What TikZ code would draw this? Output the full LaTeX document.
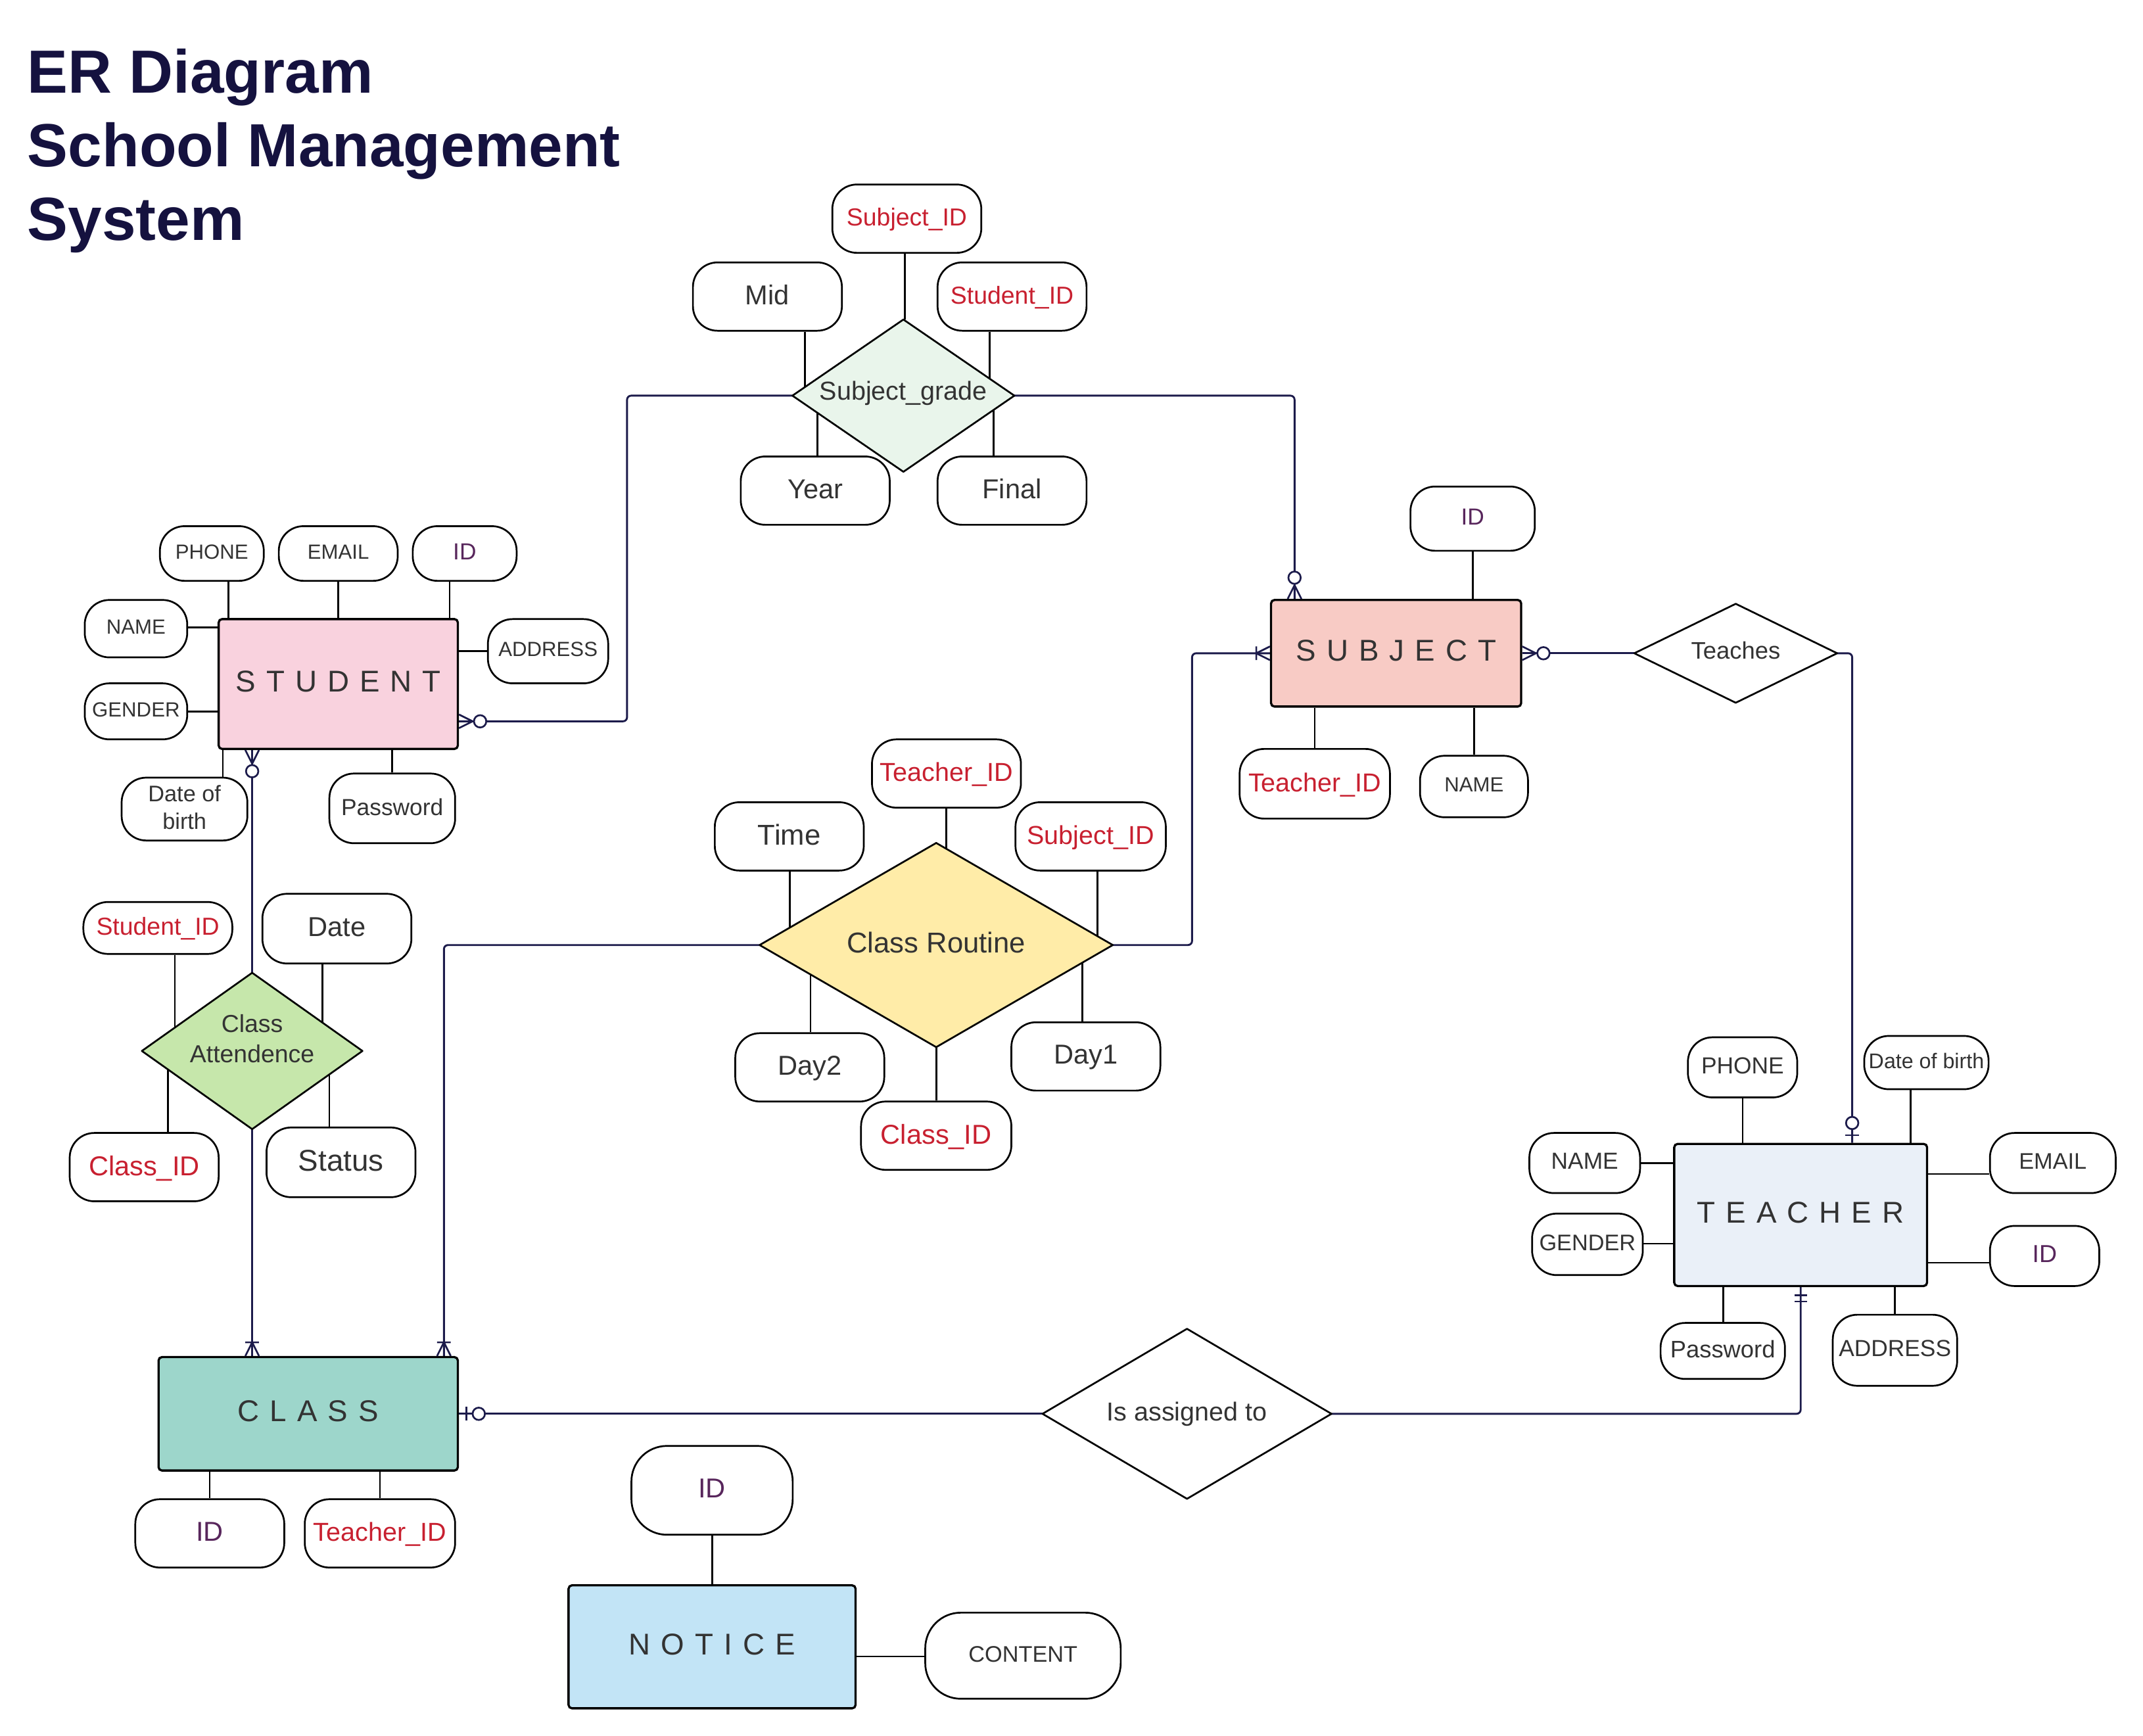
\documentclass[tikz,border=0pt]{standalone}
\usepackage{fontspec}
\setmainfont{Liberation Sans}
\newfontfamily\entfont[LetterSpace=35]{Liberation Sans}
\usetikzlibrary{calc}
\definecolor{txt}{RGB}{51,51,51}
\definecolor{keyred}{RGB}{200,32,48}
\definecolor{idpur}{RGB}{88,38,92}
\definecolor{navy}{RGB}{28,27,75}
\definecolor{titlec}{RGB}{21,18,63}
\definecolor{stufill}{RGB}{249,210,222}
\definecolor{subfill}{RGB}{248,203,197}
\definecolor{tchfill}{RGB}{234,240,248}
\definecolor{clsfill}{RGB}{157,214,203}
\definecolor{notfill}{RGB}{194,228,246}
\definecolor{sgfill}{RGB}{233,245,235}
\definecolor{crfill}{RGB}{255,236,168}
\definecolor{cafill}{RGB}{198,231,171}
\pgfdeclarelayer{paper}\pgfdeclarelayer{bg}\pgfsetlayers{paper,bg,main}
\newcommand\attrV[3]{\draw[al] ($(#1)+(#2,0)$) coordinate (tmpa) -- (tmpa |- #3);}
\newcommand\attrH[3]{\draw[al] ($(#1)+(0,#2)$) coordinate (tmpa) -- (tmpa -| #3);}
\tikzset{
 attr/.style={draw=black, line width=1.3pt, fill=white, rounded corners=18pt, inner sep=0pt, text=txt, align=center, text depth=0.25em},
 fs/.style 2 args={font=\fontsize{#1}{#2}\selectfont},
 sz/.style 2 args={minimum width=#1pt, minimum height=#2pt},
 keyt/.style={text=keyred},
 pid/.style={text=idpur},
 ent/.style={draw=black, line width=1.6pt, rounded corners=2.5pt, inner sep=0pt, text=txt, font=\entfont\fontsize{22}{26}\selectfont, text depth=4pt},
 dbox/.style={inner sep=0pt, text=txt, align=center, text depth=0.4em},
 dia/.style={draw=black, line width=1.3pt, line join=round},
 al/.style={draw=black, line width=1.3pt},
 rel/.style={draw=navy, line width=1.4pt, rounded corners=3pt},
 mk/.style={draw=navy, line width=1.3pt},
 title/.style={inner sep=0pt, text=titlec, font=\bfseries\fontsize{44.6}{54}\selectfont, anchor=base west},
 zeromany/.pic={\draw[mk] (0,-5)--(10,0)--(0,5); \draw[mk,fill=white] (15.5,0) circle[radius=4.5pt];},
 onemany/.pic={\draw[mk] (0,-5)--(10,0)--(0,5) (10,-5)--(10,5);},
 zeroone/.pic={\draw[mk] (5.5,-5)--(5.5,5); \draw[mk,fill=white] (14.5,0) circle[radius=4.5pt];},
 oneone/.pic={\draw[mk] (6,-4.5)--(6,4.5) (10.5,-4.5)--(10.5,4.5);}
}
\begin{document}
\begin{tikzpicture}[x=1pt,y=-1pt]
\useasboundingbox (0,0) rectangle (1568,1269.8);
\begin{pgfonlayer}{paper}
\fill[white] (0,0) rectangle (1568,1269.8);
\end{pgfonlayer}
% title
\node[title] (t1) at (20,68) {ER Diagram};
\node[title] (t2) at (20,122) {School Management};
\node[title] (t3) at (20,176) {System};
% entities
\node[ent, fill=stufill, sz={175}{95}] (stu) at (247.5,500.5) {STUDENT};
\node[ent, fill=subfill, sz={183}{78}] (subj) at (1021.5,478) {SUBJECT};
\node[ent, fill=tchfill, sz={185}{104}] (tch) at (1317.5,889) {TEACHER};
\node[ent, fill=clsfill, sz={219}{83}] (cls) at (225.5,1034.5) {CLASS};
\node[ent, fill=notfill, sz={210}{90}] (notice) at (521,1205) {NOTICE};
% relationship boxes (diamonds drawn on bg layer)
\node[dbox, fs={19}{23}, sz={162}{111}] (sg) at (661,289.5) {\raisebox{3pt}{Subject\_grade}};
\node[dbox, fs={17.5}{21}, sz={148}{72}] (teach) at (1270,478) {Teaches};
\node[dbox, fs={21}{25}, sz={258}{149}] (cr) at (685,691.5) {Class Routine};
\node[dbox, fs={18}{22}, sz={161}{114}, text depth=18pt] (ca) at (184.5,769) {Class\\Attendence};
\node[dbox, fs={19}{23}, sz={211}{124}] (iat) at (868.5,1034.5) {Is assigned to};
% student attributes
\node[attr, fs={15}{18}, sz={76}{40}] (sphone) at (155,405) {PHONE};
\node[attr, fs={15}{18}, sz={87}{40}] (semail) at (247.5,405) {EMAIL};
\node[attr, pid, fs={17}{20}, sz={76}{40}] (sid) at (340,405) {ID};
\node[attr, fs={15}{18}, sz={75}{42}] (sname) at (99.5,460) {NAME};
\node[attr, fs={15}{18}, sz={88}{47}] (saddr) at (401,476.5) {ADDRESS};
\node[attr, fs={15}{18}, sz={75}{41}] (sgender) at (99.5,520.5) {GENDER};
\node[attr, fs={16.5}{20}, sz={92}{46}] (sdob) at (135,592) {Date of\\birth};
\node[attr, fs={17}{20}, sz={92}{51}] (spass) at (287,591.5) {Password};
% subject_grade attributes
\node[attr, keyt, fs={18}{21}, sz={109}{50}] (gsid) at (663.5,160) {Subject\_ID};
\node[attr, fs={20}{24}, sz={109}{50}] (gmid) at (561.5,217) {Mid};
\node[attr, keyt, fs={18}{21}, sz={109}{50}] (gstid) at (740.5,217) {Student\_ID};
\node[attr, fs={20}{24}, sz={109}{50}] (gyear) at (596.5,359) {Year};
\node[attr, fs={20}{24}, sz={109}{50}] (gfinal) at (740.5,359) {Final};
% subject attributes
\node[attr, pid, fs={17}{20}, sz={91}{47}] (subid) at (1077.5,379.5) {ID};
\node[attr, keyt, fs={19}{22}, sz={110}{51}] (subtid) at (962,573.5) {Teacher\_ID};
\node[attr, fs={15}{18}, sz={79}{45}] (subname) at (1078.5,575.5) {NAME};
% class routine attributes
\node[attr, keyt, fs={19}{22}, sz={109}{50}] (rtid) at (692.5,566) {Teacher\_ID};
\node[attr, fs={21}{25}, sz={109}{50}] (rtime) at (577.5,612) {Time};
\node[attr, keyt, fs={19}{22}, sz={110}{50}] (rsid) at (798,612) {Subject\_ID};
\node[attr, fs={20}{24}, sz={109}{50}] (rday2) at (592.5,781) {Day2};
\node[attr, fs={20}{24}, sz={109}{50}] (rday1) at (794.5,773) {Day1};
\node[attr, keyt, fs={20}{24}, sz={110}{50}] (rcid) at (685,831) {Class\_ID};
% class attendence attributes
\node[attr, keyt, fs={18}{21}, sz={109}{38}] (asid) at (115.5,679) {Student\_ID};
\node[attr, fs={20}{24}, sz={109}{51}] (adate) at (246.5,679.5) {Date};
\node[attr, keyt, fs={20}{24}, sz={109}{50}] (acid) at (105.5,854) {Class\_ID};
\node[attr, fs={22}{26}, sz={109}{51}] (astatus) at (249.5,850.5) {Status};
% class attributes
\node[attr, pid, fs={20}{24}, sz={109}{50}] (cid) at (153.5,1122) {ID};
\node[attr, keyt, fs={19}{22}, sz={110}{50}] (ctid) at (278,1122) {Teacher\_ID};
% notice attributes
\node[attr, pid, fs={20}{24}, sz={118}{65}, rounded corners=26pt] (nid) at (521,1090.5) {ID};
\node[attr, fs={16.5}{20}, sz={143}{63}, rounded corners=26pt] (ncontent) at (748.5,1211.5) {CONTENT};
% teacher attributes
\node[attr, fs={17}{20}, sz={80}{44}] (tphone) at (1275,781) {PHONE};
\node[attr, fs={15.5}{19}, sz={91}{39}] (tdob) at (1409.5,777.5) {Date of birth};
\node[attr, fs={17}{20}, sz={81}{44}] (tname) at (1159.5,851) {NAME};
\node[attr, fs={16.5}{20}, sz={81}{45}] (tgender) at (1161.5,910.5) {GENDER};
\node[attr, fs={16.5}{20}, sz={92}{44}] (temail) at (1502,851) {EMAIL};
\node[attr, pid, fs={18}{21}, sz={80}{44}] (tid) at (1496,919) {ID};
\node[attr, fs={17.5}{21}, sz={91}{41}] (tpass) at (1260.5,988.5) {Password};
\node[attr, fs={17}{20}, sz={91}{52}] (taddr) at (1386.5,988) {ADDRESS};

\begin{pgfonlayer}{bg}
% attribute lines
\attrV{sphone.south}{12}{stu.north}
\attrV{semail.south}{0}{stu.north}
\attrV{sid.south}{-11}{stu.north}
\attrH{sname.east}{-1}{stu.west}
\attrH{saddr.west}{0}{stu.east}
\attrH{sgender.east}{0}{stu.west}
\attrV{sdob.north}{28}{stu.south}
\attrV{spass.north}{0}{stu.south}
\attrV{gsid.south}{-1.5}{sg.north}
\attrV{gmid.south}{27.5}{sg.center}
\attrV{gstid.south}{-16.5}{sg.center}
\attrV{gyear.north}{1.5}{sg.center}
\attrV{gfinal.north}{-13.5}{sg.center}
\attrV{subid.south}{0}{subj.north}
\attrV{subtid.north}{0}{subj.south}
\attrV{subname.north}{0}{subj.south}
\attrV{rtid.south}{0}{cr.center}
\attrV{rtime.south}{0.5}{cr.center}
\attrV{rsid.south}{5}{cr.center}
\attrV{rday2.north}{0.5}{cr.center}
\attrV{rday1.north}{-2.5}{cr.center}
\attrV{rcid.north}{0}{cr.south}
\attrV{asid.south}{12.5}{ca.center}
\attrV{adate.south}{-10.5}{ca.center}
\attrV{acid.north}{17.5}{ca.center}
\attrV{astatus.north}{-8.5}{ca.center}
\attrV{cid.north}{0}{cls.south}
\attrV{ctid.north}{0}{cls.south}
\attrV{nid.south}{0}{notice.north}
\attrH{ncontent.west}{0.5}{notice.east}
\attrV{tphone.south}{0}{tch.north}
\attrV{tdob.south}{-11.5}{tch.north}
\attrH{tname.east}{0}{tch.west}
\attrH{tgender.east}{-0.5}{tch.west}
\attrH{temail.west}{8}{tch.east}
\attrH{tid.west}{5}{tch.east}
\attrV{tpass.north}{0.5}{tch.south}
\attrV{taddr.north}{0}{tch.south}
% relationship connectors
\draw[rel] ($(stu.south east)+(0,-21)$) -- ++(123,0) |- (sg.west);
\draw[rel] (sg.east) -| ($(subj.north west)+(18,0)$);
\draw[rel] (ca.north |- stu.south) -- (ca.north);
\draw[rel] (ca.south) -- (ca.south |- cls.north);
\draw[rel] (cr.west) -| ($(cls.north east)+(-11,0)$);
\draw[rel] (cr.east) -- ++(58,0) |- (subj.west);
\draw[rel] (subj.east) -- (teach.west);
\draw[rel] (teach.east) -| ($(tch.north west)+(131,0)$);
\draw[rel] (cls.east) -- (iat.west);
\draw[rel] (iat.east) -| (tch.south);
% diamonds
\draw[dia, fill=sgfill] (sg.north) -- (sg.east) -- (sg.south) -- (sg.west) -- cycle;
\draw[dia, fill=white] (teach.north) -- (teach.east) -- (teach.south) -- (teach.west) -- cycle;
\draw[dia, fill=crfill] (cr.north) -- (cr.east) -- (cr.south) -- (cr.west) -- cycle;
\draw[dia, fill=cafill] (ca.north) -- (ca.east) -- (ca.south) -- (ca.west) -- cycle;
\draw[dia, fill=white] (iat.north) -- (iat.east) -- (iat.south) -- (iat.west) -- cycle;
\end{pgfonlayer}
% cardinality markers
\pic at ($(stu.south east)+(0,-21)$) {zeromany};
\pic[rotate=-90] at (ca.north |- stu.south) {zeromany};
\pic[rotate=90] at ($(subj.north west)+(18,0)$) {zeromany};
\pic[rotate=180] at (subj.west) {onemany};
\pic at (subj.east) {zeromany};
\pic[rotate=90] at (ca.south |- cls.north) {onemany};
\pic[rotate=90] at ($(cls.north east)+(-11,0)$) {onemany};
\pic at (cls.east) {zeroone};
\pic[rotate=90] at ($(tch.north west)+(131,0)$) {zeroone};
\pic[rotate=-90] at (tch.south) {oneone};
\end{tikzpicture}
\end{document}
